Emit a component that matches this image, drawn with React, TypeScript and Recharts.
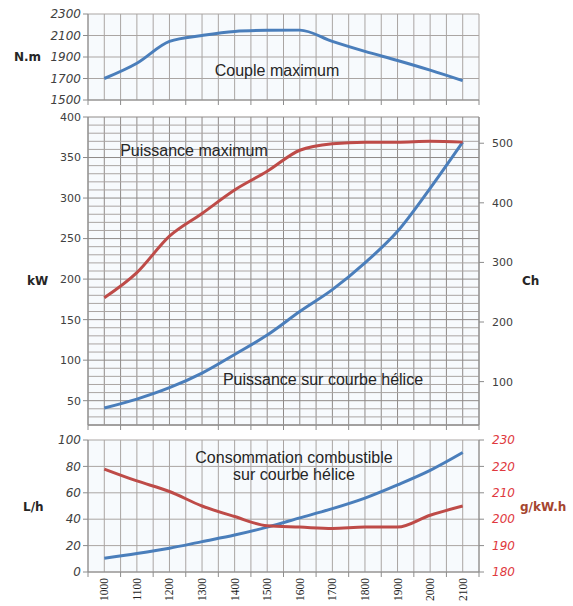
import { LineChart, Line, XAxis, YAxis, CartesianGrid, ReferenceLine } from 'recharts';

// engine speed, rpm
const rpm = [1000, 1100, 1200, 1300, 1400, 1500, 1600, 1700, 1800, 1900, 2000, 2100];
// couple maximum, N.m
const torque = [1700, 1842, 2045, 2100, 2138, 2148, 2150, 2045, 1952, 1868, 1778, 1680];
// puissance maximum, kW
const powerMax = [177, 208, 253, 281, 310, 333, 359, 367, 369, 369, 370, 369];
// puissance sur courbe hélice, kW
const powerProp = [41, 52, 66, 84, 107, 131, 160, 187, 220, 259, 312, 369];
// consommation sur courbe hélice, L/h
const fuelFlow = [10.5, 14, 18, 23, 28, 34, 41, 48, 56, 66, 77, 90.5];
// consommation spécifique, g/kW.h
const sfc = [219, 214.5, 210.5, 205, 201, 197.5, 197, 196.5, 197, 197, 201.5, 205];

const torqueTicks = [1500, 1700, 1900, 2100, 2300];
const kwTicks = [50, 100, 150, 200, 250, 300, 350, 400];
const chTicks = [100, 200, 300, 400, 500];
const lhTicks = [0, 20, 40, 60, 80, 100];
const gTicks = [180, 190, 200, 210, 220, 230];

const KW_TO_CH = 1.36;
const KW_DOMAIN: [number, number] = [20, 400];

const data = rpm.map((r, i) => ({
    rpm: r,
    torque: torque[i],
    powerMax: powerMax[i],
    powerMaxCh: powerMax[i] * KW_TO_CH,
    powerProp: powerProp[i],
    fuelFlow: fuelFlow[i],
    sfc: sfc[i],
}));

// grid every 50 rpm: category bounds and centres
const xGrid: number[] = [];
for (let v = 950; v <= 2150; v += 50) xGrid.push(v);

const kwMinor: number[] = [];
for (let v = 20; v <= 400; v += 10) if (v % 50 !== 0) kwMinor.push(v);

const BLUE = '#4a7ebb';
const RED = '#be4b48';
const GRID = '#aaa5a3';
const AXIS = '#8c8c8c';

const W = 573;
const H = 606;

const italicTick = { fill: '#404040', fontSize: 12, fontStyle: 'italic', fontFamily: 'DejaVu Sans' };
const plainTick = { fill: '#404040', fontSize: 11, fontFamily: 'DejaVu Sans' };

function XTick(props: any) {
    const { x, y, payload, showLabel } = props;
    const v = payload.value;
    return (
        <g>
            {v % 100 === 50 && <line x1={x} x2={x} y1={y} y2={y + 5} stroke={AXIS} />}
            {showLabel && v % 100 === 0 && (
                <text
                    transform={`translate(${x},${y + 6}) rotate(-90)`}
                    textAnchor="end"
                    dy="0.35em"
                    fontSize={11.5}
                    fontFamily="Liberation Serif"
                    fill="#222"
                >
                    {v}
                </text>
            )}
        </g>
    );
}

function Xaxis({ labels, height }: { labels: boolean; height: number }) {
    return (
        <XAxis
            type="number"
            dataKey="rpm"
            domain={[950, 2150]}
            ticks={xGrid}
            interval={0}
            height={height}
            stroke={AXIS}
            tickLine={false}
            tickSize={0}
            tickMargin={0}
            tick={<XTick showLabel={labels} />}
        />
    );
}

const box = (z: number) => ({ position: 'absolute' as const, left: 0, top: 0, zIndex: z });

export default function App() {
    return (
        <div style={{ position: 'absolute', left: 0, top: 0, width: W, height: H, background: '#fff' }}>
            {/* couple */}
            <div style={box(1)}>
                <LineChart width={W} height={H} data={data} margin={{ top: 14, right: 94, bottom: 498, left: 0 }}>
                    <CartesianGrid stroke={GRID} fill="#f7fafd" />
                    {Xaxis({ labels: false, height: 8 })}
                    <YAxis
                        width={88}
                        domain={[1500, 2300]}
                        ticks={torqueTicks}
                        interval={0}
                        stroke={AXIS}
                        tickSize={5}
                        tick={italicTick}
                    />
                    <Line type="monotone" dataKey="torque" stroke={BLUE} strokeWidth={3} dot={false} isAnimationActive={false} />
                </LineChart>
            </div>

            {/* puissance */}
            <div style={box(2)}>
                <LineChart width={W} height={H} data={data} margin={{ top: 117, right: 0, bottom: 173, left: 0 }}>
                    <CartesianGrid yAxisId="kw" stroke="#8f8a88" fill="#f7fafd" />
                    {kwMinor.map((v) => (
                        <ReferenceLine key={v} yAxisId="kw" y={v} stroke={GRID} />
                    ))}
                    {Xaxis({ labels: false, height: 8 })}
                    <YAxis
                        yAxisId="kw"
                        width={88}
                        domain={KW_DOMAIN}
                        ticks={kwTicks}
                        interval={0}
                        stroke={AXIS}
                        tickSize={5}
                        tick={plainTick}
                    />
                    <YAxis
                        yAxisId="ch"
                        orientation="right"
                        type="number"
                        width={94}
                        domain={[KW_DOMAIN[0] * KW_TO_CH, KW_DOMAIN[1] * KW_TO_CH]}
                        allowDataOverflow
                        ticks={chTicks}
                        interval={0}
                        stroke={AXIS}
                        tickSize={5}
                        tickMargin={8}
                        tick={plainTick}
                    />
                    {/* same curve in Ch, only there to carry the right axis */}
                    <Line yAxisId="ch" type="monotone" dataKey="powerMaxCh" stroke="transparent" strokeWidth={0} dot={false} isAnimationActive={false} />
                    <Line yAxisId="kw" type="monotone" dataKey="powerProp" stroke={BLUE} strokeWidth={3} dot={false} isAnimationActive={false} />
                    <Line yAxisId="kw" type="monotone" dataKey="powerMax" stroke={RED} strokeWidth={3} dot={false} isAnimationActive={false} />
                </LineChart>
            </div>

            {/* consommation */}
            <div style={box(3)}>
                <LineChart width={W} height={H} data={data} margin={{ top: 440, right: 0, bottom: 4, left: 0 }}>
                    <CartesianGrid yAxisId="lh" stroke={GRID} fill="#f7fafd" />
                    {Xaxis({ labels: true, height: 30 })}
                    <YAxis
                        yAxisId="lh"
                        width={88}
                        domain={[0, 100]}
                        ticks={lhTicks}
                        interval={0}
                        stroke={AXIS}
                        tickSize={5}
                        tick={italicTick}
                    />
                    <YAxis
                        yAxisId="g"
                        orientation="right"
                        width={94}
                        domain={[180, 230]}
                        ticks={gTicks}
                        interval={0}
                        stroke={AXIS}
                        tickSize={5}
                        tickMargin={8}
                        tick={{ ...italicTick, fill: '#e0393e' }}
                    />
                    <Line yAxisId="lh" type="monotone" dataKey="fuelFlow" stroke={BLUE} strokeWidth={3} dot={false} isAnimationActive={false} />
                    <Line yAxisId="g" type="monotone" dataKey="sfc" stroke={RED} strokeWidth={3} dot={false} isAnimationActive={false} />
                </LineChart>
            </div>

            {/* titles and units */}
            <svg width={W} height={H} style={{ ...box(4), pointerEvents: 'none' }}>
                <g fontFamily="DejaVu Sans" fontWeight="bold" fontSize={12} fill="#262626">
                    <text x={14} y={61}>N.m</text>
                    <text x={27} y={285}>kW</text>
                    <text x={522} y={285}>Ch</text>
                    <text x={23} y={511}>L/h</text>
                    <text x={520} y={511} fill="#a5452f">g/kW.h</text>
                </g>
                <g fontFamily="Liberation Sans" fontSize={16} fill="#262626" textAnchor="middle">
                    <text x={277} y={76}>Couple maximum</text>
                    <text x={194} y={156}>Puissance maximum</text>
                    <text x={323} y={385}>Puissance sur courbe hélice</text>
                    <text x={294} y={463}>Consommation combustible</text>
                    <text x={294} y={480}>sur courbe hélice</text>
                </g>
            </svg>
        </div>
    );
}
